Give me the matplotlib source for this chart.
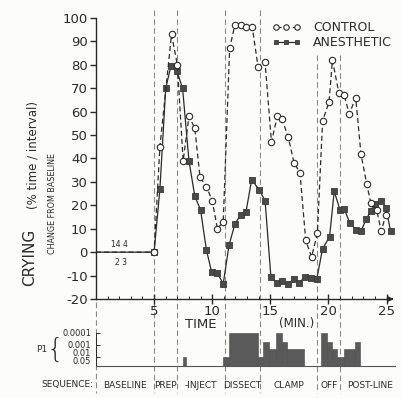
import numpy as np
import matplotlib
matplotlib.use('Agg')
import matplotlib.pyplot as plt
import matplotlib.transforms as mtransforms

plt.rcParams['font.family'] = ['DejaVu Sans']
plt.rcParams['axes.unicode_minus'] = False

# crying (% time / interval), change from baseline
time_control = [0, 5.0, 5.5, 6.5, 7.0, 7.5, 8.0, 8.5, 8.95, 9.5,
                10.0, 10.45, 10.95, 11.5, 11.95, 12.45, 12.9, 13.45, 13.95, 14.55,
                15.1, 15.6, 16.0, 16.55, 17.05, 17.55, 18.05, 18.55, 19.05, 19.5,
                20.05, 20.35, 20.9, 21.35, 21.8, 22.35, 22.8, 23.3, 23.65, 24.15,
                24.55, 24.95]
control = [0, 0, 45, 93, 80, 39, 58, 53, 32, 28,
           22, 10, 13, 87, 97, 97, 96, 96, 79, 81,
           47, 58, 57, 49, 38, 34, 5, -2, 8, 56,
           64, 82, 68, 67, 59, 66, 42, 29, 21, 18,
           9, 16]

time_anesth = [0, 5.0, 5.5, 6.0, 6.45, 6.95, 7.45, 8.0, 8.5, 9.0,
               9.5, 9.95, 10.45, 10.95, 11.45, 11.95, 12.45, 12.9, 13.4, 14.05,
               14.55, 15.05, 15.55, 16.0, 16.5, 17.05, 17.5, 18.0, 18.5, 19.0,
               19.5, 20.1, 20.5, 21.0, 21.35, 21.85, 22.4, 22.8, 23.25, 23.65,
               24.05, 24.55, 24.95, 25.35]
anesthetic = [0, 0, 27, 70, 79.5, 77.5, 70, 39, 24, 18,
              1, -8.5, -9, -13.5, 3, 12, 16, 17, 31, 26.5,
              22, -10.5, -13, -12.5, -13.5, -11.5, -13, -10.5, -11, -11.5,
              1.5, 6.5, 26, 18, 18.5, 12.5, 9.5, 9, 14, 17.5,
              20.5, 22, 19, 9]

# significance of the difference, per interval
p_start = [7.45, 10.95, 11.45, 13.9, 14.35, 14.85, 15.5, 16.0, 16.45,
           19.35, 19.85, 20.35, 20.75, 21.3, 22.3]
p_end = [7.75, 11.45, 13.9, 14.35, 14.85, 15.5, 16.0, 16.45, 17.9,
         19.85, 20.35, 20.75, 21.3, 22.3, 22.7]
p_value = [0.01, 0.01, 0.0001, 0.01, 0.0005, 0.002, 0.0001, 0.0005, 0.002,
           0.0001, 0.0005, 0.002, 0.01, 0.002, 0.0005]
p_levels = [0.05, 0.01, 0.001, 0.0001]
p_labels = ['0.05', '0.01', '0.001', '0.0001']

# sequence of the procedure
seq_bounds = [0, 5.0, 7.0, 11.1, 14.1, 19.05, 21.0]
seq_labels = ['BASELINE', 'PREP', '-INJECT', 'DISSECT', 'CLAMP', 'OFF', 'POST-LINE']
seq_end = 26.2

W, H = 403, 398
ink = '#2a2a2a'
fig = plt.figure(figsize=(W / 100, H / 100), dpi=100)
fig.patch.set_facecolor('#fcfcfa')

def fx(px):
    return px / W

def fy(py):
    return 1 - py / H

xmax = (W - 96) / 11.62
ax = fig.add_axes([fx(96), fy(299), 1 - fx(96), fy(10) - fy(299)])
ax.set_facecolor('none')
ax.set_xlim(0, xmax)
ax.set_ylim(-20, 103.4)

ax.plot(time_control, control, color=ink, lw=0.9, ls=(0, (4, 2.5)),
        marker='o', ms=4.6, mfc='white', mec=ink, mew=0.8,
        markevery=slice(1, None), label='CONTROL', zorder=4)
ax.plot(time_anesth, anesthetic, color=ink, lw=0.9, ls='-',
        marker='s', ms=4.2, mfc='#4a4a4a', mec='#3a3a3a', mew=0.6,
        markevery=slice(1, None), label='ANESTHETIC', zorder=3)

for s in ['top', 'right']:
    ax.spines[s].set_visible(False)
ax.spines['left'].set_bounds(-20, 100)
ax.spines['bottom'].set_bounds(0, 25.4)
for s in ['left', 'bottom']:
    ax.spines[s].set_linewidth(1.0)
    ax.spines[s].set_color(ink)

ax.set_yticks(np.arange(-20, 101, 10))
ax.set_xticks([5, 10, 15, 20, 25])
ax.set_xticks(np.arange(1, 26, 1), minor=True)
ax.tick_params(axis='y', direction='out', length=4, width=1, pad=2,
               labelsize=9.5, colors=ink)
ax.tick_params(axis='x', which='major', direction='inout', length=7, width=1,
               pad=0.5, labelsize=9.5, colors=ink)
ax.tick_params(axis='x', which='minor', direction='in', length=2.5, width=0.7,
               colors=ink)
ax.annotate('', xy=(25.85, -20), xytext=(25.2, -20),
            arrowprops=dict(arrowstyle='-|>', color=ink, lw=1.0,
                            mutation_scale=8), annotation_clip=False)

ax.text(2.05, 3.2, '14 4', fontsize=5.5, ha='center', va='center', color=ink)
ax.text(2.15, -4.5, '2 3', fontsize=5.5, ha='center', va='center', color=ink)

ax.legend(numpoints=3, frameon=False, loc='upper left',
          bbox_to_anchor=(fx(272), fy(21)), bbox_transform=fig.transFigure,
          borderpad=0, borderaxespad=0, handlelength=2.3, handletextpad=1.0,
          labelspacing=0.15, prop={'size': 9}, labelcolor=ink, markerscale=0.85)

# axis titles
fig.text(fx(30), fy(257), 'CRYING', rotation=90, ha='center', va='center',
         fontsize=11, color=ink)
fig.text(fx(33), fy(155), '(% time / interval)', rotation=90, ha='center',
         va='center', fontsize=8.5, color=ink)
fig.text(fx(52.5), fy(204), 'CHANGE FROM BASELINE', rotation=90, ha='center',
         va='center', fontsize=5.8, color=ink)
fig.text(fx(201), fy(325), 'TIME', ha='center', va='center', fontsize=9.5,
         color=ink)
fig.text(fx(297), fy(324), '(MIN.)', ha='center', va='center', fontsize=8.5,
         color=ink)

# significance panel
axp = fig.add_axes([fx(96), fy(366), 1 - fx(96), fy(328) - fy(366)])
axp.set_facecolor('none')
axp.set_xlim(0, xmax)
base = -np.log10(p_levels[0])
axp.set_ylim(base, base + 38 / 12.2)
widths = np.array(p_end) - np.array(p_start)
heights = -np.log10(p_value) - base
axp.bar(p_start, heights, width=widths, bottom=base, align='edge',
        color='#5a5a5a', edgecolor='#4a4a4a', linewidth=0.4)
for s in ['top', 'right']:
    axp.spines[s].set_visible(False)
axp.spines['left'].set_bounds(base, -np.log10(p_levels[-1]))
axp.spines['bottom'].set_bounds(0, 25.7)
axp.spines['left'].set_color(ink)
axp.spines['left'].set_linewidth(0.7)
axp.spines['bottom'].set_color('#555555')
axp.spines['bottom'].set_linewidth(0.8)
axp.set_xticks([])
axp.set_yticks(-np.log10(p_levels))
axp.set_yticklabels([])
axp.tick_params(axis='y', direction='in', length=3, width=0.7, colors=ink)
# labels are spread a little as in the original, where the lower ones crowd
for lab, py in zip(p_labels, [362, 354, 345, 334]):
    fig.text(fx(91), fy(py), lab, ha='right', va='center', fontsize=6.0,
             color=ink)
fig.text(fx(42), fy(349), 'P1', ha='center', va='center', fontsize=6.5,
         color=ink)
fig.text(fx(55), fy(349), '{', ha='center', va='center', fontsize=19,
         color=ink, fontweight='light')

# sequence row and phase boundaries
fig.text(fx(93), fy(385), 'SEQUENCE:', ha='right', va='center', fontsize=6.5,
         color=ink)
edges = seq_bounds + [seq_end]
seq_tr = mtransforms.blended_transform_factory(axp.transData, fig.transFigure)
for i, lab in enumerate(seq_labels):
    mid = (edges[i] + edges[i + 1]) / 2
    axp.text(mid, fy(385), lab, ha='center', va='center', fontsize=6.5,
             color=ink, transform=seq_tr)

blend = mtransforms.blended_transform_factory(ax.transData, fig.transFigure)
tops = {0: 302, 19.05: 55, 21.0: 55}
for b in seq_bounds:
    ax.plot([b, b], [fy(tops.get(b, 10)), fy(393)], transform=blend,
            color='#8a8a8a', lw=0.8, ls=(0, (5, 3)), clip_on=False, zorder=1)

fig.savefig('out.png', dpi=100, facecolor=fig.get_facecolor())
